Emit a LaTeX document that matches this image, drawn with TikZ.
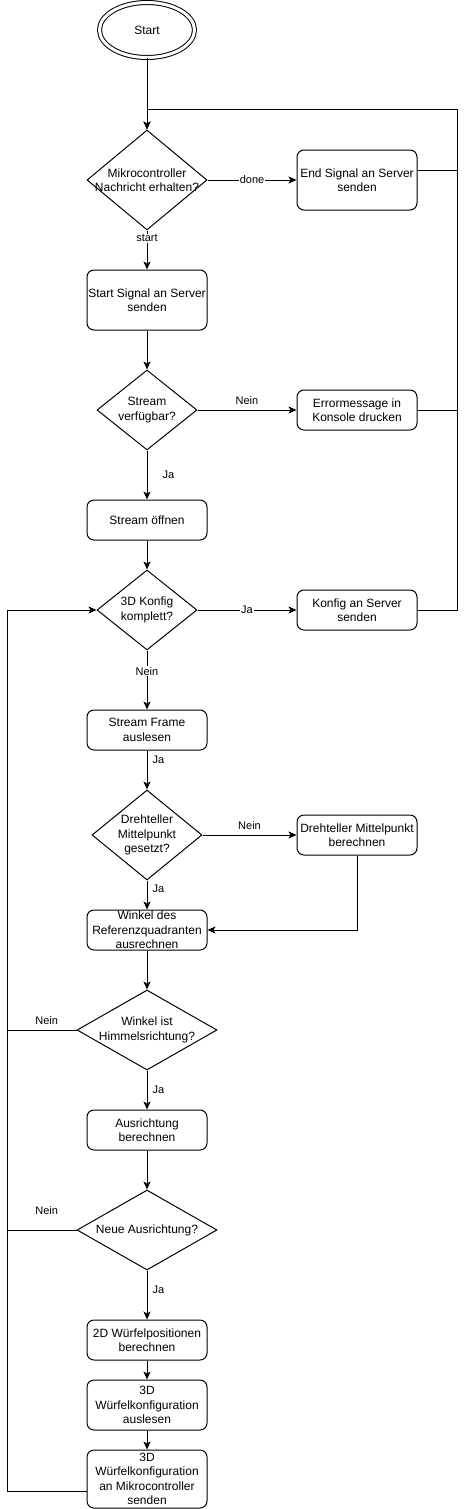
\documentclass[tikz,border=0pt]{standalone}
\usepackage{fontspec}
\setmainfont{Liberation Sans}
\usepackage{tikz}
\usetikzlibrary{shapes}
\usetikzlibrary{arrows.meta}
\tikzstyle{terminal}=[ellipse,draw=black,double,double distance=3pt,inner sep=0mm,minimum width=95,minimum height=55,font=\fontsize{12}{14.4}\selectfont]
\tikzstyle{process}=[rectangle,rounded corners=7pt,draw=black,fill=white,inner sep=0mm,minimum width=120,minimum height=40,align=center,font=\fontsize{12}{14.4}\selectfont]
\tikzstyle{decision}=[diamond,draw=black,fill=white,inner sep=0mm]
\tikzstyle{dtext}=[align=center,inner sep=0mm,font=\fontsize{12}{14.4}\selectfont]
\tikzstyle{lbl}=[inner sep=1pt,font=\fontsize{11}{13}\selectfont]
\tikzstyle{onlbl}=[lbl,fill=white]
\tikzstyle{arrow}=[->,>={Stealth[length=8pt,width=7pt,inset=2pt]}]

\begin{document}
\begin{tikzpicture}[x=1pt,y=-1pt,line width=1pt]
    \useasboundingbox (0,0) rectangle (466,1509);
    \node[terminal] at (147,30) (start) {Start};
    \node[decision,minimum width=120,minimum height=100,label={[dtext]center:Mikrocontroller\\Nachricht erhalten?}] at (147,180) (mc) {};
    \node[process,minimum height=60] at (357,180) (endsig) {End Signal an Server\\senden};
    \node[process,minimum height=60] at (147,300) (startsig) {Start Signal an Server\\senden};
    \node[decision,minimum width=100,minimum height=80,label={[dtext]center:Stream\\verfügbar?}] at (147,410) (stream) {};
    \node[process] at (357,410) (err) {Errormessage in\\Konsole drucken};
    \node[process] at (147,520) (open) {Stream öffnen};
    \node[decision,minimum width=100,minimum height=80,label={[dtext]center:3D Konfig\\komplett?}] at (147,610) (konf) {};
    \node[process] at (357,610) (send) {Konfig an Server\\senden};
    \node[process] at (147,730) (frame) {Stream Frame\\auslesen};
    \node[decision,minimum width=110,minimum height=90,label={[dtext]center:Drehteller\\Mittelpunkt\\gesetzt?}] at (147,835) (dreh) {};
    \node[process] at (357,835) (mid) {Drehteller Mittelpunkt\\berechnen};
    \node[process] at (147,930) (winkel) {Winkel des\\Referenzquadranten\\ausrechnen};
    \node[decision,minimum width=140,minimum height=80,label={[dtext]center:Winkel ist\\Himmelsrichtung?}] at (147,1030) (himmel) {};
    \node[process] at (147,1130) (ausr) {Ausrichtung\\berechnen};
    \node[decision,minimum width=140,minimum height=80,label={[dtext]center:Neue Ausrichtung?}] at (147,1230) (neu) {};
    \node[process] at (147,1340) (pos) {2D Würfelpositionen\\berechnen};
    \node[process,minimum height=50] at (147,1405) (cfg) {3D\\Würfelkonfiguration\\auslesen};
    \node[process,minimum height=58] at (147,1479) (sendcfg) {3D\\Würfelkonfiguration\\an Mikrocontroller\\senden};
    \coordinate (ret) at (457,110);
    \coordinate (loop) at (7,610);
    % main path
    \draw[arrow] (start) -- (mc);
    \draw[arrow] (mc) -- node[onlbl]{done} (endsig);
    \draw[arrow] (mc) -- node[onlbl,pos=0.2]{start} (startsig);
    \draw[arrow] ([yshift=10pt]endsig.east) -| (ret) -| (mc.north);
    \draw[arrow] (startsig) -- (stream);
    \draw[arrow] (stream) -- node[lbl,above=4pt]{Nein} (err);
    \draw (err.east) -- (err.east -| ret);
    \draw[arrow] (stream) -- node[lbl,right=14pt]{Ja} (open);
    \draw[arrow] (open) -- (konf);
    \draw[arrow] (konf) -- node[onlbl]{Ja} (send);
    \draw (send.east) -| (ret);
    \draw[arrow] (konf) -- node[onlbl,pos=0.35]{Nein} (frame);
    \draw[arrow] (frame) -- node[lbl,right=4pt,pos=0.25]{Ja} (dreh);
    \draw[arrow] (dreh) -- node[lbl,above=4pt]{Nein} (mid);
    \draw[arrow] (dreh) -- node[lbl,right=4pt,pos=0.3]{Ja} (winkel);
    \draw[arrow] (mid) |- (winkel);
    \draw[arrow] (winkel) -- (himmel);
    \draw (himmel.west) -- node[lbl,above=4pt,xshift=5pt]{Nein} (himmel.west -| loop);
    \draw[arrow] (himmel) -- node[lbl,right=4pt]{Ja} (ausr);
    \draw[arrow] (ausr) -- (neu);
    \draw (neu.west) -- node[lbl,above=14pt,xshift=5pt]{Nein} (neu.west -| loop);
    \draw[arrow] (neu) -- node[lbl,right=4pt,pos=0.4]{Ja} (pos);
    \draw[arrow] (pos) -- (cfg);
    \draw[arrow] (cfg) -- (sendcfg);
    % loop back
    \draw[arrow] ([yshift=-12pt]sendcfg.west) -| (loop) -- (konf.west);
\end{tikzpicture}
\end{document}
